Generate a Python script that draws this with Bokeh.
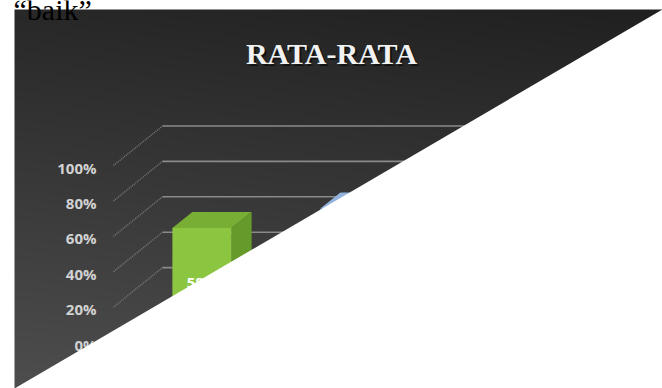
import numpy as np
from bokeh.plotting import figure
from bokeh.models import Range1d, PolyAnnotation
from bokeh.core.properties import value
from bokeh.embed import file_html
from bokeh.resources import INLINE

# ---------------- data ----------------
title_text = "RATA-RATA"
caption_text = "\u201cbaik\u201d"
categories = ["Kategori 1", "Kategori 2", "Kategori 3"]
values = [58, 69, 64]
data_labels = ["58%", "69%", "64%"]
tick_values = [0, 20, 40, 60, 80, 100]
tick_labels = ["0%", "20%", "40%", "60%", "80%", "100%"]

front_colors = ["#8cc640", "#7f9fcf", "#c0504d"]
top_colors = ["#79ae34", "#93b2dc", "#a8433f"]
side_colors = ["#669a2b", "#6a8abb", "#94383a"]

# ---------------- layout (canvas px) ----------------
W, H = 662, 388
X0 = 127.5      # canvas x of category origin on bar plane
PXC = 148.0     # px per category
Y0 = 330.25     # canvas y of 0% on bar plane
PXY = 1.77      # px per percent
FRONT = (-14.5, 11.75)   # screen offset bar plane -> front plane
BACK = (34.5, -27.75)    # screen offset bar plane -> back wall
DEPTH = (20.0, -16.0)    # bar depth offset
BAR_W = 0.4


def cx(x):
    return (x - X0) / PXC


def cy(y):
    return (Y0 - y) / PXY


def ox(px):
    return px / PXC


def oy(px):
    return -px / PXY


p = figure(width=W, height=H,
           x_range=Range1d(cx(0), cx(W)), y_range=Range1d(cy(H), cy(0)),
           output_backend="svg", toolbar_location=None,
           x_axis_type=None, y_axis_type=None, min_border=0,
           background_fill_color="white", border_fill_color="white",
           outline_line_color=None)
p.grid.visible = False

# ---------------- gradient background ----------------
left, right, top, bottom = 14, 662, 9, 388
nx, ny = 324, 190
xs_pg = left + (np.arange(nx) + 0.5) * (right - left) / nx
ys_pg = bottom - (np.arange(ny) + 0.5) * (bottom - top) / ny
XX, YY = np.meshgrid(xs_pg, ys_pg)
lum = 40 + 0.1 * (YY - 9) - 0.012 * (XX - 14)
lum = np.clip(lum, 30, 90).astype(np.uint32)
img = (255 << 24) | (lum << 16) | (lum << 8) | lum
p.image_rgba(image=[img.astype(np.uint32)], x=cx(left), y=cy(bottom),
             dw=(right - left) / PXC, dh=(bottom - top) / PXY, level="underlay")

# ---------------- back wall gridlines ----------------
bx, by = ox(BACK[0]), oy(BACK[1])
fx, fy = ox(FRONT[0]), oy(FRONT[1])
n = len(categories)
p.multi_line(xs=[[bx, n + bx] for _ in tick_values],
             ys=[[t + by, t + by] for t in tick_values],
             line_color="#8a8a8a", line_width=1.6)
# side wall lines
p.multi_line(xs=[[fx, bx] for _ in tick_values],
             ys=[[t + fy, t + by] for t in tick_values],
             line_color="#8a8a8a", line_width=1.4, line_dash="1 1", line_alpha=0.8)

# ---------------- 3D bars ----------------
centers = [i + 0.5 for i in range(n)]
ddx, ddy = ox(DEPTH[0]), oy(DEPTH[1])
xl = [c - BAR_W / 2 for c in centers]
xr = [c + BAR_W / 2 for c in centers]
p.patches(xs=[[r, r + ddx, r + ddx, r] for r in xr],
          ys=[[0, ddy, v + ddy, v] for v in values],
          fill_color=side_colors, line_color=None)
p.patches(xs=[[l, l + ddx, r + ddx, r] for l, r in zip(xl, xr)],
          ys=[[v, v + ddy, v + ddy, v] for v in values],
          fill_color=top_colors, line_color=None)
p.vbar(x=centers, top=values, bottom=0, width=BAR_W,
       fill_color=front_colors, line_color=None)

# data labels
p.text(x=centers, y=[v / 2 for v in values], text=data_labels,
       text_align="center", text_baseline="middle", y_offset=3,
       text_color="white", text_font=value("Open Sans"),
       text_font_style="bold", text_font_size="15px")

# tick labels
p.text(x=[fx - ox(17)] * len(tick_values), y=[t + fy for t in tick_values],
       text=tick_labels, text_align="right", text_baseline="middle", y_offset=2,
       text_color="#d2d2d2", text_font=value("Open Sans"),
       text_font_style="bold", text_font_size="15px")

# title with shadow
p.text(x=[cx(331)], y=[cy(53)], text=[title_text], x_offset=2, y_offset=2,
       text_align="center", text_baseline="alphabetic",
       text_color="black", text_alpha=0.55, text_font=value("Liberation Serif"),
       text_font_style="bold", text_font_size="30px")
p.text(x=[cx(331)], y=[cy(53)], text=[title_text],
       text_align="center", text_baseline="alphabetic",
       text_color="#f2f2f2", text_font=value("Liberation Serif"),
       text_font_style="bold", text_font_size="30px")

# ---------------- white diagonal cut ----------------
x_a, y_a = 14.0, 388.0
x_b, y_b = 662.0, 9.0
slope = (x_b - x_a) / (y_b - y_a)


def line_x(y):
    return x_a + (y - y_a) * slope


cut_x = [line_x(-20), 900, 900, line_x(500)]
cut_y = [-20, -20, 500, 500]
p.add_layout(PolyAnnotation(xs=[cx(v) for v in cut_x], ys=[cy(v) for v in cut_y],
                            fill_color="white", fill_alpha=1.0, line_color=None))

# partially visible caption above the chart (cut at the top, as in the source)
p.text(x=[cx(13)], y=[cy(8.5)], text=[caption_text],
       text_align="left", text_baseline="alphabetic",
       text_color="black", text_font=value("Liberation Serif"),
       text_font_size="30px")

open("out.html", "w").write(file_html(p, INLINE))
